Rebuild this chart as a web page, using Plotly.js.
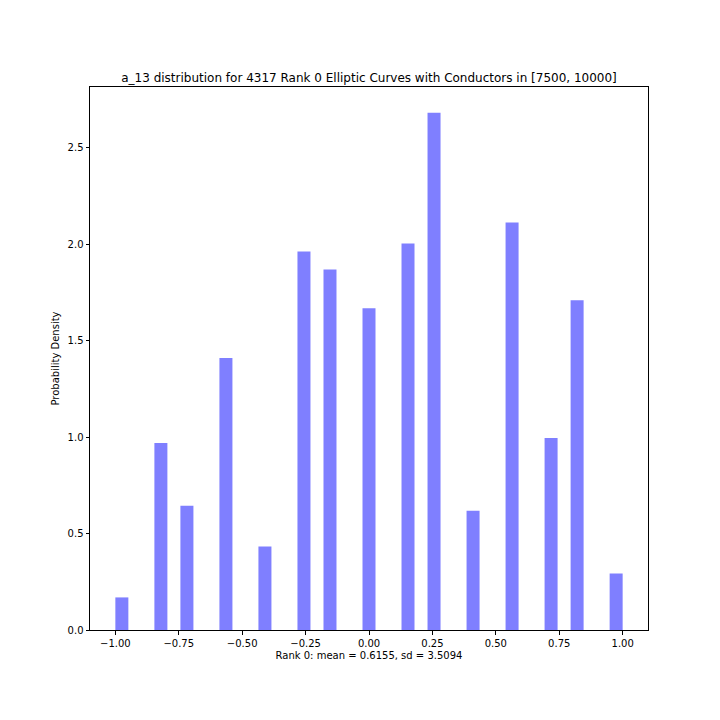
<!DOCTYPE html>
<html>
<head>
<meta charset="utf-8">
<script src="https://cdn.plot.ly/plotly-3.0.1.min.js"></script>
<style>
  body { margin: 0; background: #fff; }
  #chart { width: 720px; height: 720px; }
</style>
</head>
<body>
<div id="chart"></div>
<script>
// histogram of normalised a_13, 39 bins over [-1, 1], only non-empty bins listed
var binWidth = 2 / 39;
var binCenters = [-0.9744, -0.8205, -0.7179, -0.5641, -0.4103, -0.2564, -0.1538, 0.0,
                  0.1538, 0.2564, 0.4103, 0.5641, 0.7179, 0.8205, 0.9744];
var density = [0.169, 0.970, 0.645, 1.410, 0.433, 1.963, 1.870, 1.669,
               2.005, 2.682, 0.619, 2.113, 0.996, 1.710, 0.293];

var xTicks = [-1.0, -0.75, -0.5, -0.25, 0.0, 0.25, 0.5, 0.75, 1.0];
var yTicks = [0.0, 0.5, 1.0, 1.5, 2.0, 2.5];

var fontFamily = 'DejaVu Sans, sans-serif';

var trace = {
    x: binCenters,
    y: density,
    width: binCenters.map(function() { return binWidth; }),
    type: 'bar',
    marker: { color: 'rgba(0,0,255,0.5)', line: { width: 0 } },
    hoverinfo: 'x+y'
};

var axisStyle = {
    showgrid: false,
    zeroline: false,
    showline: true,
    linecolor: '#000',
    linewidth: 1,
    mirror: true,
    ticks: 'outside',
    ticklen: 3.5,
    tickwidth: 1,
    tickcolor: '#000',
    tickfont: { family: fontFamily, size: 10, color: '#000' }
};

var layout = {
    width: 720,
    height: 720,
    margin: { l: 90, r: 72, t: 86.5, b: 89.5 },
    paper_bgcolor: '#fff',
    plot_bgcolor: '#fff',
    showlegend: false,
    font: { family: fontFamily, color: '#000' },
    title: {
        text: 'a_13 distribution for 4317 Rank 0 Elliptic Curves with Conductors in [7500, 10000]',
        font: { family: fontFamily, size: 12, color: '#000' },
        x: 0.5,
        xref: 'paper',
        y: 1,
        yref: 'paper',
        yanchor: 'bottom',
        pad: { b: 5 }
    },
    xaxis: Object.assign({}, axisStyle, {
        range: [-1.1, 1.1],
        tickvals: xTicks,
        tickformat: '.2f',
        title: {
            text: 'Rank 0: mean = 0.6155, sd = 3.5094',
            font: { family: fontFamily, size: 10, color: '#000' },
            standoff: 4
        }
    }),
    yaxis: Object.assign({}, axisStyle, {
        range: [0, 2.816],
        tickvals: yTicks,
        tickformat: '.1f',
        title: {
            text: 'Probability Density',
            font: { family: fontFamily, size: 10, color: '#000' },
            standoff: 6
        }
    })
};

Plotly.newPlot('chart', [trace], layout, { displayModeBar: false, staticPlot: true });
</script>
</body>
</html>
